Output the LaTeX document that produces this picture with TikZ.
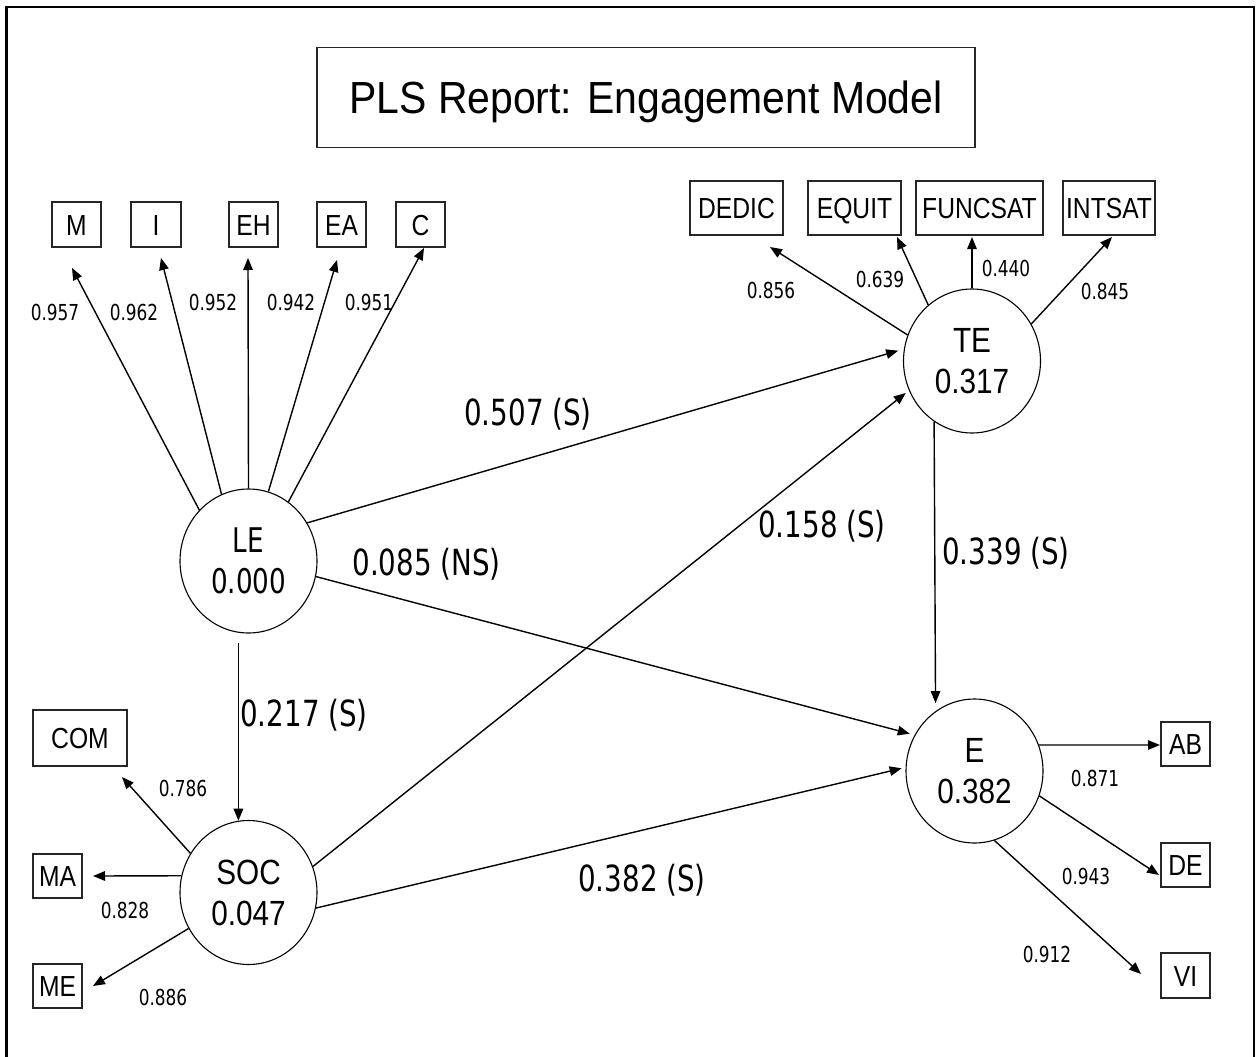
\documentclass[tikz,border=0pt]{standalone}
\usepackage{fontspec}
\setmainfont{Liberation Sans}
\newfontfamily\arialn[FakeStretch=0.85]{Liberation Sans}
\newfontfamily\arialt[FakeStretch=0.91]{Liberation Sans}
\newfontfamily\tahn[FakeStretch=0.77]{DejaVu Sans}
\usetikzlibrary{arrows.meta,shapes.geometric}
\tikzset{
  indbox/.style={draw=black!85, line width=1.1pt, inner sep=0pt,
    minimum width=49pt, minimum height=45pt, text height=21pt, text depth=0pt,
    font=\arialn\fontsize{29}{30}\selectfont},
  latent/.style={draw, ellipse, line width=1.1pt, inner sep=0pt,
    minimum width=137pt, minimum height=144pt, align=center,
    font=\arialn\fontsize{35}{41}\selectfont},
  arr/.style={line width=1.4pt, -{Triangle[length=12pt,width=9.5pt]}},
  smalllab/.style={inner sep=0pt, font=\tahn\fontsize{22}{24}\selectfont},
  biglab/.style={inner sep=0pt, font=\tahn\fontsize{36}{40}\selectfont}
}
\begin{document}
\begin{tikzpicture}[x=1pt,y=-1pt]
\useasboundingbox (0,0) rectangle (1256,1057);
\fill[white] (0,0) rectangle (1256,1057);
\draw[line width=2.8pt] (6.7,7) rectangle (1254,1090);

% title
\node[draw=black!85, line width=1.1pt, minimum width=658pt, minimum height=100pt,
  text depth=0pt, font=\arialt\fontsize{45}{50}\selectfont] (title) at (646,97.5)
  {PLS Report: Engagement Model};

% latent variables
\node[latent, font=\tahn\fontsize{34}{41}\selectfont] (LE) at (248.5,561) {LE\\0.000};
\node[latent] (TE) at (972,361) {TE\\0.317};
\node[latent] (SOC) at (248.5,892.5) {SOC\\0.047};
\node[latent] (E) at (974.5,771) {E\\0.382};

% LE indicators
\node[indbox] (M) at (76.5,224.5) {M};
\node[indbox, minimum width=50pt] (I) at (156,224.5) {I};
\node[indbox] (EH) at (253.5,224.5) {EH};
\node[indbox] (EA) at (341.5,224.5) {EA};
\node[indbox] (C) at (420.5,224.5) {C};
\coordinate (tM) at (72,268);
\coordinate (tI) at (161,258);
\coordinate (tEH) at (248,258);
\coordinate (tEA) at (337,260);
\coordinate (tC) at (424,248);
\draw[arr] (LE.134) -- (tM);
\draw[arr] (LE.112.6) -- (tI);
\draw[arr] (LE.90) -- (tEH);
\draw[arr] (LE.74.8) -- (tEA);
\draw[arr] (LE.56) -- (tC);
\node[smalllab] (lM) at (55,312) {0.957};
\node[smalllab] (lI) at (134,312) {0.962};
\node[smalllab] (lEH) at (213,302) {0.952};
\node[smalllab] (lEA) at (291,302) {0.942};
\node[smalllab] (lC) at (369,302) {0.951};

% TE indicators
\node[indbox, minimum width=93pt, minimum height=54pt] (DEDIC) at (736.5,208) {DEDIC};
\node[indbox, minimum width=93pt, minimum height=54pt] (EQUIT) at (854.5,208) {EQUIT};
\node[indbox, minimum width=127pt, minimum height=54pt] (FUNCSAT) at (979.5,208) {FUNCSAT};
\node[indbox, minimum width=92pt, minimum height=54pt] (INTSAT) at (1109,208) {INTSAT};
\coordinate (tDEDIC) at (770,247);
\coordinate (tEQUIT) at (897,237);
\coordinate (tFUNCSAT) at (972,237);
\coordinate (tINTSAT) at (1112,237);
\draw[arr] (TE.158) -- (tDEDIC);
\draw[arr] (TE.128.5) -- (tEQUIT);
\draw[arr] (TE.90) -- (tFUNCSAT);
\draw[arr] (TE.32) -- (tINTSAT);
\node[smalllab] (lDEDIC) at (771,290) {0.856};
\node[smalllab] (lEQUIT) at (880,279) {0.639};
\node[smalllab] (lFUNCSAT) at (1006,268) {0.440};
\node[smalllab] (lINTSAT) at (1105,291) {0.845};

% SOC indicators
\node[indbox, minimum width=94pt, minimum height=56pt] (COM) at (80,738) {COM};
\node[indbox, minimum height=44pt] (MA) at (57.5,876) {MA};
\node[indbox, minimum height=44pt] (ME) at (57.5,986) {ME};
\coordinate (tCOM) at (122,777);
\coordinate (tMA) at (93,876);
\coordinate (tME) at (93,986);
\draw[arr] (SOC.146) -- (tCOM);
\draw[arr] (SOC.166) -- (tMA);
\draw[arr] (SOC.211) -- (tME);
\node[smalllab] (lCOM) at (183,788) {0.786};
\node[smalllab] (lMA) at (125,910) {0.828};
\node[smalllab] (lME) at (163,997) {0.886};

% E indicators
\node[indbox, minimum height=44pt] (AB) at (1185.5,744) {AB};
\node[indbox, minimum height=44pt] (DE) at (1185.5,865) {DE};
\node[indbox] (VI) at (1185.5,975.5) {VI};
\coordinate (tAB) at (1160,745);
\coordinate (tDE) at (1159,875);
\coordinate (tVI) at (1141,974);
\draw[arr] (E.22) -- (tAB);
\draw[arr] (E.-21.5) -- (tDE);
\draw[arr] (E.-74.6) -- (tVI);
\node[smalllab] (lAB) at (1095,778) {0.871};
\node[smalllab] (lDE) at (1086,876) {0.943};
\node[smalllab] (lVI) at (1047,954) {0.912};

% structural paths
\draw[arr, shorten >=6pt] (LE.33) -- (TE.170);
\draw[arr, shorten >=5pt] (LE.-13) -- (E.149);
\draw[arr, shorten <=10pt] (LE.262) -- (SOC.98);
\draw[arr, shorten >=4pt] (SOC.22.6) -- (TE.205);
\draw[arr, shorten >=4pt] (SOC.-13.5) -- (E.177);
\draw[arr, shorten >=8pt] (TE.238.6) -- (E.123.8);

\node[biglab] (pLT) at (528,414) {0.507 (S)};
\node[biglab] (pLE) at (426.5,564) {0.085 (NS)};
\node[biglab] (pST) at (822,526) {0.158 (S)};
\node[biglab] (pTE) at (1006,553) {0.339 (S)};
\node[biglab] (pLS) at (304,715) {0.217 (S)};
\node[biglab] (pSE) at (642,880) {0.382 (S)};
\end{tikzpicture}
\end{document}
